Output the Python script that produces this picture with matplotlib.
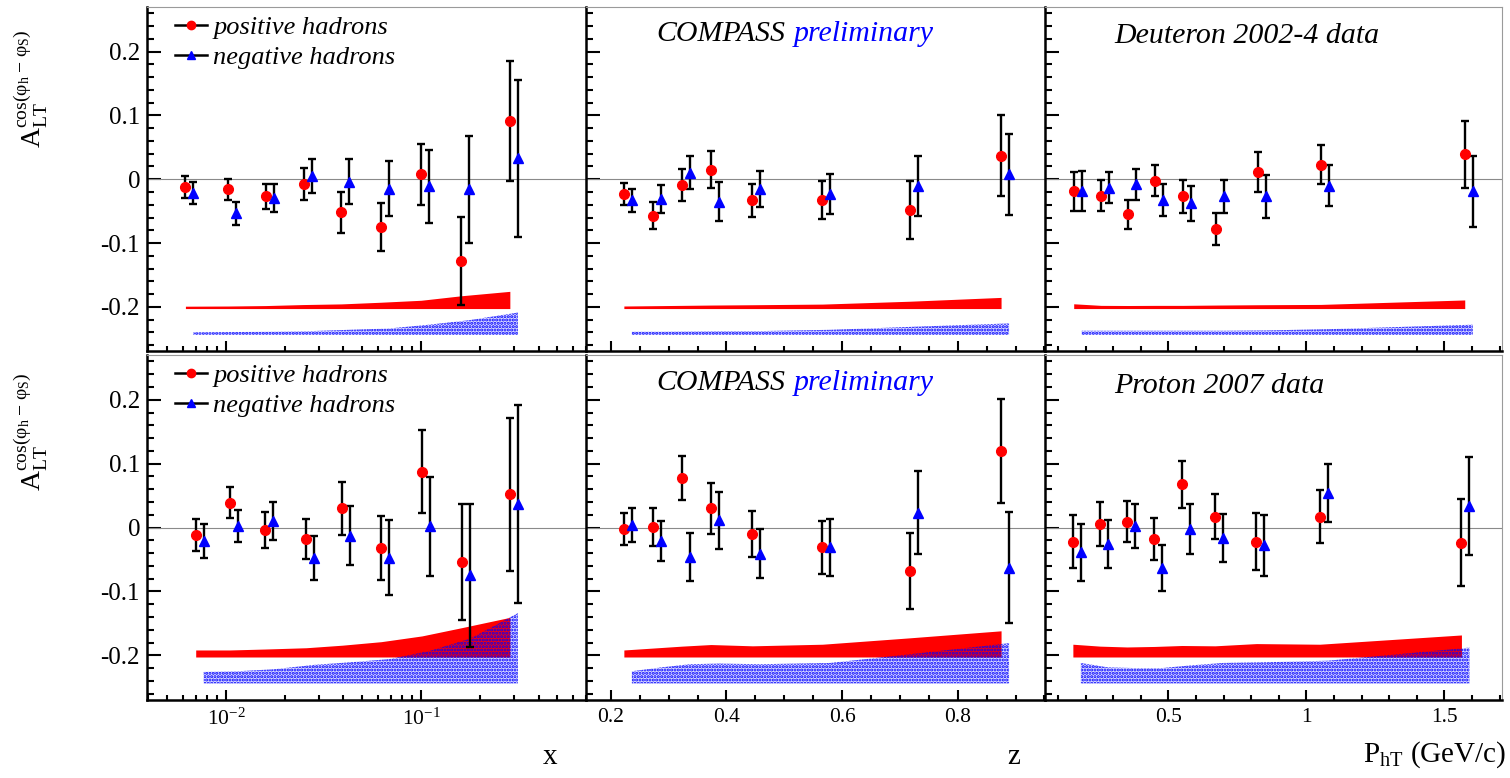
import numpy as np
import matplotlib
matplotlib.use('Agg')
import matplotlib.pyplot as plt
from matplotlib.lines import Line2D
from matplotlib.transforms import ScaledTranslation
from matplotlib.ticker import FixedLocator, FixedFormatter, MultipleLocator, LogLocator, NullFormatter

plt.rcParams['font.family'] = ['Liberation Serif', 'DejaVu Serif']
plt.rcParams['mathtext.fontset'] = 'custom'
plt.rcParams['mathtext.rm'] = 'Liberation Serif'
plt.rcParams['mathtext.it'] = 'Liberation Serif:italic'
plt.rcParams['mathtext.bf'] = 'Liberation Serif:bold'
plt.rcParams['axes.unicode_minus'] = False
plt.rcParams['hatch.linewidth'] = 1.5

# ---------------- data ----------------
# Deuteron 2002-4, x bins
x_d = [0.0062, 0.0103, 0.016, 0.025, 0.039, 0.062, 0.100, 0.160, 0.285]
pos_x_d = [-0.012, -0.016, -0.027, -0.007, -0.052, -0.075, 0.008, -0.128, 0.091]
pos_x_d_err = [0.017, 0.017, 0.020, 0.025, 0.032, 0.038, 0.048, 0.069, 0.094]
neg_x_d = [-0.022, -0.053, -0.030, 0.005, -0.004, -0.015, -0.011, -0.016, 0.033]
neg_x_d_err = [0.017, 0.018, 0.022, 0.027, 0.035, 0.043, 0.057, 0.084, 0.123]
sys_pos_x_d = [0.0037, 0.004, 0.0047, 0.0063, 0.0073, 0.0099, 0.013, 0.020, 0.027]
sys_neg_x_d = [0.004, 0.0045, 0.005, 0.006, 0.008, 0.010, 0.016, 0.023, 0.035]

# Deuteron 2002-4, z bins
z_d = [0.2225, 0.273, 0.323, 0.373, 0.445, 0.566, 0.717, 0.875]
pos_z_d = [-0.023, -0.057, -0.009, 0.015, -0.033, -0.033, -0.048, 0.037]
pos_z_d_err = [0.017, 0.021, 0.0245, 0.029, 0.026, 0.030, 0.045, 0.0635]
neg_z_d = [-0.033, -0.031, 0.010, -0.035, -0.015, -0.023, -0.011, 0.008]
neg_z_d_err = [0.018, 0.022, 0.026, 0.031, 0.028, 0.032, 0.047, 0.0635]
sys_pos_z_d = [0.004, 0.0045, 0.005, 0.0055, 0.006, 0.007, 0.0115, 0.0175]
sys_neg_z_d = [0.005, 0.005, 0.0055, 0.006, 0.006, 0.008, 0.013, 0.018]

# Deuteron 2002-4, PhT bins
pt_d = [0.157, 0.256, 0.354, 0.453, 0.552, 0.674, 0.824, 1.053, 1.574]
pos_pt_d = [-0.019, -0.026, -0.055, -0.002, -0.027, -0.078, 0.011, 0.023, 0.039]
pos_pt_d_err = [0.030, 0.0245, 0.023, 0.024, 0.026, 0.025, 0.031, 0.030, 0.052]
neg_pt_d = [-0.018, -0.013, -0.008, -0.033, -0.038, -0.027, -0.027, -0.010, -0.019]
neg_pt_d_err = [0.031, 0.025, 0.024, 0.025, 0.027, 0.026, 0.033, 0.032, 0.0556]
sys_pos_pt_d = [0.0075, 0.005, 0.0048, 0.005, 0.005, 0.0055, 0.006, 0.0065, 0.0135]
sys_neg_pt_d = [0.0065, 0.0065, 0.0065, 0.0065, 0.0065, 0.0065, 0.007, 0.009, 0.016]

# Proton 2007, x bins
x_p = [0.0070, 0.01045, 0.0159, 0.0258, 0.0395, 0.0625, 0.101, 0.162, 0.285]
pos_x_p = [-0.012, 0.039, -0.004, -0.018, 0.030, -0.032, 0.087, -0.054, 0.052]
pos_x_p_err = [0.025, 0.024, 0.0277, 0.032, 0.041, 0.050, 0.065, 0.091, 0.12]
neg_x_p = [-0.021, 0.002, 0.010, -0.048, -0.013, -0.047, 0.002, -0.075, 0.037]
neg_x_p_err = [0.026, 0.025, 0.030, 0.034, 0.046, 0.058, 0.0775, 0.1125, 0.155]
sys_pos_x_p = [0.011, 0.011, 0.0125, 0.0145, 0.0185, 0.024, 0.033, 0.046, 0.062]
sys_neg_x_p = [0.018, 0.019, 0.022, 0.029, 0.033, 0.038, 0.051, 0.070, 0.11]

# Proton 2007, z bins
z_p = [0.2225, 0.273, 0.323, 0.373, 0.445, 0.566, 0.717, 0.875]
pos_z_p = [-0.003, 0.001, 0.078, 0.030, -0.010, -0.031, -0.068, 0.120]
pos_z_p_err = [0.025, 0.0295, 0.0345, 0.040, 0.0355, 0.041, 0.060, 0.081]
neg_z_p = [0.004, -0.021, -0.046, 0.011, -0.041, -0.031, 0.023, -0.063]
neg_z_p_err = [0.026, 0.031, 0.037, 0.044, 0.038, 0.045, 0.065, 0.087]
sys_pos_z_p = [0.011, 0.014, 0.017, 0.0195, 0.0175, 0.020, 0.030, 0.041]
sys_neg_z_p = [0.019, 0.025, 0.030, 0.031, 0.030, 0.032, 0.047, 0.063]

# Proton 2007, PhT bins
pt_p = [0.154, 0.2525, 0.350, 0.449, 0.5485, 0.669, 0.819, 1.0485, 1.562]
pos_pt_p = [-0.022, 0.005, 0.009, -0.018, 0.068, 0.017, -0.022, 0.017, -0.024]
pos_pt_p_err = [0.042, 0.0345, 0.0324, 0.0334, 0.0368, 0.035, 0.044, 0.041, 0.068]
neg_pt_p = [-0.039, -0.026, 0.002, -0.063, -0.002, -0.016, -0.028, 0.054, 0.034]
neg_pt_p_err = [0.044, 0.037, 0.0345, 0.036, 0.039, 0.0375, 0.048, 0.0457, 0.077]
sys_pos_pt_p = [0.020, 0.017, 0.0157, 0.0165, 0.018, 0.0175, 0.021, 0.020, 0.0345]
sys_neg_pt_p = [0.032, 0.025, 0.024, 0.024, 0.028, 0.032, 0.033, 0.0355, 0.056]

# systematic band baselines
red_band_base = -0.2027
blue_band_base = -0.244

# ticks / labels
y_ticks = [-0.2, -0.1, 0.0, 0.1, 0.2]
y_tick_labels = ['-0.2', '-0.1', '0', '0.1', '0.2']
x_ticks = [0.01, 0.1]
x_tick_labels = [r'$\mathdefault{10^{-2}}$', r'$\mathdefault{10^{-1}}$']
z_ticks = [0.2, 0.4, 0.6, 0.8]
z_tick_labels = ['0.2', '0.4', '0.6', '0.8']
pt_ticks = [0.5, 1.0, 1.5]
pt_tick_labels = ['0.5', '1', '1.5']
legend_labels = ['positive hadrons', 'negative hadrons']
row_titles = ['Deuteron 2002-4 data', 'Proton 2007 data']

# ---------------- figure ----------------
W, H = 1510, 778
fig = plt.figure(figsize=(W / 100, H / 100), dpi=100)
fig.patch.set_facecolor('white')

cols = [(147, 586), (586, 1045), (1045, 1502)]
rows = [(7, 351.5), (355, 700)]
xlims = [(0.00394, 0.70), (0.157, 0.951), (0.053, 1.709)]

panels = [
    [(x_d, pos_x_d, pos_x_d_err, neg_x_d, neg_x_d_err, sys_pos_x_d, sys_neg_x_d),
     (z_d, pos_z_d, pos_z_d_err, neg_z_d, neg_z_d_err, sys_pos_z_d, sys_neg_z_d),
     (pt_d, pos_pt_d, pos_pt_d_err, neg_pt_d, neg_pt_d_err, sys_pos_pt_d, sys_neg_pt_d)],
    [(x_p, pos_x_p, pos_x_p_err, neg_x_p, neg_x_p_err, sys_pos_x_p, sys_neg_x_p),
     (z_p, pos_z_p, pos_z_p_err, neg_z_p, neg_z_p_err, sys_pos_z_p, sys_neg_z_p),
     (pt_p, pos_pt_p, pos_pt_p_err, neg_pt_p, neg_pt_p_err, sys_pos_pt_p, sys_neg_pt_p)],
]

neg_shift = ScaledTranslation(8 / 100, 0, fig.dpi_scale_trans)
serif_it = {'family': 'Liberation Serif', 'style': 'italic'}

for r in range(2):
    for c in range(3):
        x0, x1 = cols[c]
        y0, y1 = rows[r]
        ax = fig.add_axes([x0 / W, 1 - y1 / H, (x1 - x0) / W, (y1 - y0) / H])
        xs, pos, pos_e, neg, neg_e, sp, sn = panels[r][c]
        xs = np.asarray(xs)
        sp = np.asarray(sp)
        sn = np.asarray(sn)
        if c == 0:
            ax.set_xscale('log')
        off = ax.transData + neg_shift

        # systematic bands: pale tint of the blue band underneath, red band,
        # then the blue dot pattern on top
        ax.fill_between(xs, blue_band_base, blue_band_base + sn, facecolor='#dcdcff',
                        lw=0, zorder=0.9, transform=off)
        ax.fill_between(xs, red_band_base, red_band_base + sp, color='#ff0000', lw=0, zorder=1)
        ax.fill_between(xs, blue_band_base, blue_band_base + sn, facecolor='none',
                        edgecolor='#0000ff', hatch='.....', lw=0, zorder=1.5, transform=off)

        ax.axhline(0, color='#8a8a8a', lw=0.8, zorder=1.8)

        # positive hadrons
        ax.errorbar(xs, pos, yerr=pos_e, fmt='none', ecolor='black', elinewidth=1.7,
                    capsize=2.8, capthick=1.7, zorder=3)
        ax.plot(xs, pos, 'o', color='#ff0000', mec='#ff0000', ms=7, zorder=4)
        # negative hadrons (drawn slightly shifted to the right)
        eb = ax.errorbar(xs, neg, yerr=neg_e, fmt='none', ecolor='black', elinewidth=1.7,
                         capsize=2.8, capthick=1.7, zorder=3)
        for art in list(eb.lines[1]) + list(eb.lines[2]):
            art.set_transform(off)
        ax.plot(xs, neg, '^', color='#0000ff', mec='#0000ff', ms=7, zorder=4, transform=off)

        # axes formatting
        ax.set_xlim(*xlims[c])
        ax.set_ylim(-0.27, 0.27)
        ax.yaxis.set_major_locator(FixedLocator(y_ticks))
        ax.yaxis.set_major_formatter(FixedFormatter(y_tick_labels))
        ax.yaxis.set_minor_locator(MultipleLocator(0.02))
        if c == 0:
            ax.xaxis.set_major_locator(FixedLocator(x_ticks))
            ax.xaxis.set_major_formatter(FixedFormatter(x_tick_labels))
            ax.xaxis.set_minor_locator(LogLocator(base=10, subs=np.arange(2, 10)))
        elif c == 1:
            ax.xaxis.set_major_locator(FixedLocator(z_ticks))
            ax.xaxis.set_major_formatter(FixedFormatter(z_tick_labels))
            ax.xaxis.set_minor_locator(MultipleLocator(0.05))
        else:
            ax.xaxis.set_major_locator(FixedLocator(pt_ticks))
            ax.xaxis.set_major_formatter(FixedFormatter(pt_tick_labels))
            ax.xaxis.set_minor_locator(MultipleLocator(0.1))
        ax.xaxis.set_minor_formatter(NullFormatter())

        ax.tick_params(axis='y', which='both', direction='in', left=True, right=False,
                       width=1.5, labelsize=18, pad=5, labelleft=(c == 0))
        ax.tick_params(axis='y', which='major', length=10)
        ax.tick_params(axis='y', which='minor', length=5)
        ax.tick_params(axis='x', which='both', direction='in', bottom=True, top=False,
                       width=1.5, labelsize=15.5, pad=6, labelbottom=(r == 1))
        ax.tick_params(axis='x', which='major', length=7.5)
        ax.tick_params(axis='x', which='minor', length=3.5)

        for s in ('left', 'bottom'):
            ax.spines[s].set_linewidth(1.8)
            ax.spines[s].set_color('black')
        for s in ('top', 'right'):
            ax.spines[s].set_linewidth(0.8)
            ax.spines[s].set_color('#9a9a9a')

        # annotations
        if c == 0:
            handles = [Line2D([], [], color='black', lw=1.8, marker='o', ms=6,
                              mfc='#ff0000', mec='#ff0000'),
                       Line2D([], [], color='black', lw=1.8, marker='^', ms=5.5,
                              mfc='#0000ff', mec='#0000ff')]
            ax.legend(handles, legend_labels, loc='upper left', bbox_to_anchor=(0.064, 0.975),
                      frameon=False, prop={**serif_it, 'size': 19}, handlelength=1.2,
                      handletextpad=0.25, labelspacing=0.24, borderaxespad=0, borderpad=0)
        elif c == 1:
            t = ax.text(0.154, 0.90, 'COMPASS', transform=ax.transAxes, fontsize=21.5,
                        color='black', va='baseline', ha='left', **serif_it)
            ax.annotate('preliminary', xy=(1, 0), xycoords=t, xytext=(5.8, 0),
                        textcoords='offset points', fontsize=21.5, color='#0000ff',
                        va='bottom', ha='left', **serif_it)
        else:
            ax.text(0.151, 0.895 if r == 0 else 0.889, row_titles[r], transform=ax.transAxes,
                    fontsize=21.5, color='black', va='baseline', ha='left', **serif_it)

# y-axis titles
ylab = r'$\mathrm{A}_{\mathrm{LT}}^{\mathrm{cos}(\mathrm{\varphi}_{\mathrm{h}}\ \mathrm{-}\ \mathrm{\varphi}_{\mathrm{S}})}$'
fig.text(31 / W, 1 - 29 / H, ylab, rotation=90, ha='center', va='top', fontsize=20)
fig.text(31 / W, 1 - 372 / H, ylab, rotation=90, ha='center', va='top', fontsize=20)

# x-axis titles
fig.text(550 / W, 1 - 757 / H, 'x', ha='center', va='center', fontsize=21)
fig.text(1014 / W, 1 - 757 / H, 'z', ha='center', va='center', fontsize=21)
fig.text(1506 / W, 1 - 755 / H, r'P$_{\mathrm{hT}}$ (GeV/c)', ha='right', va='center', fontsize=21)

fig.savefig('out.png', dpi=100, facecolor='white')
